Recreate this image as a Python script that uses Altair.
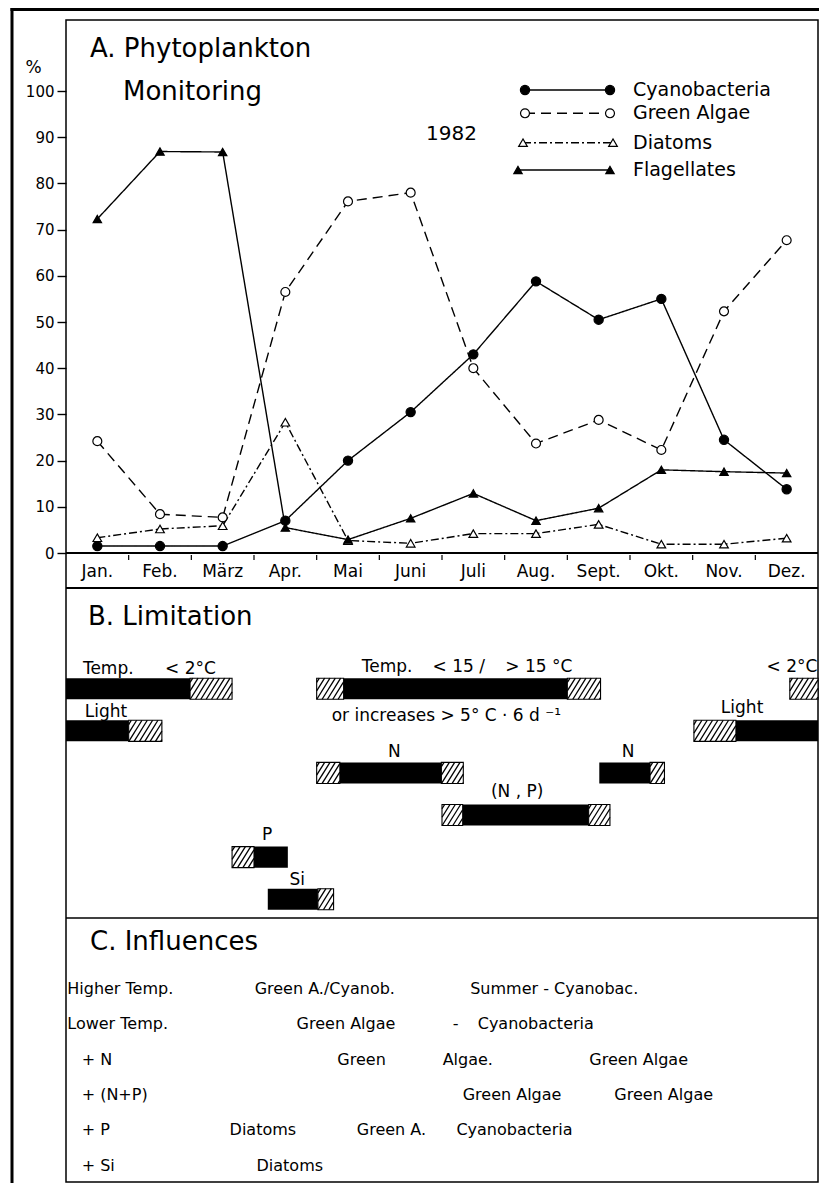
import altair as alt
import numpy as np
import pandas as pd

FONT = "DejaVu Sans"

# ---------------- data ----------------
months = ["Jan.", "Feb.", "März", "Apr.", "Mai", "Juni",
          "Juli", "Aug.", "Sept.", "Okt.", "Nov.", "Dez."]
series_names = ["Cyanobacteria", "Green Algae", "Diatoms", "Flagellates"]
cyanobacteria = [1.5, 1.5, 1.5, 7.0, 20.0, 30.5, 43.0, 58.8, 50.5, 55.0, 24.5, 13.8]
green_algae = [24.2, 8.4, 7.7, 56.5, 76.1, 78.0, 40.0, 23.7, 28.8, 22.3, 52.3, 67.7]
diatoms = [3.3, 5.2, 5.9, 28.3, 2.7, 2.1, 4.2, 4.2, 6.2, 1.9, 1.9, 3.2]
flagellates = [72.3, 86.9, 86.8, 5.5, 2.9, 7.5, 12.9, 7.0, 9.7, 18.0, 17.6, 17.3]
y_ticks = list(range(0, 101, 10))

# B. Limitation: segments of the bars (month units, row 0 = top row)
seg_row = [0, 0, 1, 1, 0, 0, 0, 2, 2, 2, 2, 2, 3, 3, 3, 1, 1, 0, 4, 4, 5, 5]
seg_start = [0.00, 1.98, 0.00, 1.00, 4.00, 4.43, 8.00, 4.00, 4.37, 5.99, 8.51,
             9.32, 6.00, 6.33, 8.34, 10.02, 10.69, 11.55, 2.65, 3.00, 3.22, 4.02]
seg_end = [1.98, 2.65, 1.00, 1.53, 4.43, 8.00, 8.53, 4.37, 5.99, 6.34, 9.32,
           9.55, 6.33, 8.34, 8.68, 10.69, 12.00, 12.00, 3.00, 3.54, 4.02, 4.27]
seg_kind = ["solid", "hatch", "solid", "hatch", "hatch", "solid", "hatch",
            "hatch", "solid", "hatch", "solid", "hatch", "hatch", "solid", "hatch",
            "hatch", "solid", "hatch", "hatch", "solid", "solid", "hatch"]

lim_text = ["Temp.", "< 2°C", "Light", "Temp.", "< 15 /", "> 15 °C",
            "or  increases   > 5° C · 6 d ⁻¹", "N", "N", "(N , P)", "Light", "< 2°C", "P", "Si"]
lim_x = [0.27, 1.58, 0.30, 4.72, 5.85, 7.01, 4.24, 5.24, 8.97, 7.20, 10.45, 11.99, 3.21, 3.69]
lim_y = [-0.35, -0.35, 0.67, -0.40, -0.40, -0.40, 0.77, 1.62, 1.62, 2.58, 0.58, -0.40, 3.59, 4.66]
lim_align = ["left", "left", "left", "left", "left", "left", "left",
             "center", "center", "center", "left", "right", "center", "center"]

# C. Influences
infl_rows = ["Higher Temp.", "Lower Temp.", "+ N", "+ (N+P)", "+ P", "+ Si"]
infl_rows_x = [0.02, 0.02, 0.25, 0.25, 0.25, 0.25]
infl_text = ["Green A./Cyanob.", "Summer - Cyanobac.",
             "Green Algae", "-", "Cyanobacteria",
             "Green", "Algae.", "Green Algae",
             "Green Algae", "Green Algae",
             "Diatoms", "Green A.", "Cyanobacteria",
             "Diatoms"]
infl_row = [0, 0, 1, 1, 1, 2, 2, 2, 3, 3, 4, 4, 4, 5]
infl_x = [3.01, 6.45, 3.68, 6.17, 6.57, 4.33, 6.01, 8.35, 6.33, 8.75, 2.61, 4.64, 6.23, 3.04]

# ---------------- layout ----------------
W, H = 752, 1162
PX_MONTH = W / 12.0
A_PX = 4.62      # px per percent
B_PX = 42.1      # px per limitation row
C_PX = 35.3      # px per influence row


def ydom(v_anchor, px_anchor, px_per_unit, down=False):
    if down:
        d0 = v_anchor - px_anchor / px_per_unit
    else:
        d0 = v_anchor - (H - px_anchor) / px_per_unit
    return [d0, d0 + H / px_per_unit]


def mx(px):   # page px -> month units
    return (px - 66) / PX_MONTH


def ay(px):   # page px -> percent units
    return (553 - px) / A_PX


def by(px):
    return (px - 688.7) / B_PX


def cy(px):
    return (px - 994) / C_PX


xs = alt.Scale(domain=[0, 12], nice=False, zero=False)
scA = alt.Scale(domain=ydom(0, 533, A_PX), nice=False, zero=False)
scB = alt.Scale(domain=ydom(0, 668.7, B_PX, down=True), nice=False, zero=False, reverse=True)
scC = alt.Scale(domain=ydom(0, 974, C_PX, down=True), nice=False, zero=False, reverse=True)

dash_scale = alt.Scale(domain=series_names, range=[[1, 0], [10, 6], [8, 3, 2, 3], [1, 0]])
shape_scale = alt.Scale(domain=series_names, range=["circle", "circle", "triangle-up", "triangle-up"])
fill_scale = alt.Scale(domain=series_names, range=["black", "white", "white", "black"])
size_scale = alt.Scale(domain=series_names, range=[85, 70, 115, 150])
width_scale = alt.Scale(domain=series_names, range=[1.4, 1.4, 1.3, 1.8])

rows = []
for s, vals in zip(series_names, [cyanobacteria, green_algae, diatoms, flagellates]):
    for i, v in enumerate(vals):
        rows.append({"series": s, "m": i + 0.5, "month": months[i], "pct": v})
df = pd.DataFrame(rows)

axisA = alt.Axis(values=y_ticks, tickSize=9, tickWidth=1.4, tickColor="black",
                 labelFont=FONT, labelFontSize=15, labelColor="black", labelPadding=3,
                 domain=False, grid=False, title="%", titleAngle=0, titleX=-33, titleY=47,
                 titleFont=FONT, titleFontSize=17, titleFontWeight="normal", titleColor="black",
                 titleAlign="center", titleBaseline="middle", labelOverlap=False)

X = lambda f: alt.X(f, type="quantitative", scale=xs, axis=None)

lines = alt.Chart(df).mark_line(color="black").encode(
    x=X("m"),
    y=alt.Y("pct:Q", scale=scA, axis=axisA),
    detail="series:N",
    strokeDash=alt.StrokeDash("series:N", scale=dash_scale, legend=None),
    strokeWidth=alt.StrokeWidth("series:N", scale=width_scale, legend=None),
)

pt_enc = dict(
    shape=alt.Shape("series:N", scale=shape_scale, legend=None),
    fill=alt.Fill("series:N", scale=fill_scale, legend=None),
    size=alt.Size("series:N", scale=size_scale, legend=None),
)
points = alt.Chart(df).mark_point(filled=True, stroke="black", strokeWidth=1.2, opacity=1).encode(
    x=X("m"), y=alt.Y("pct:Q", scale=scA, axis=None), **pt_enc)

# legend
leg = pd.DataFrame({
    "series": series_names,
    "y": [ay(p) for p in [90, 113.3, 142.7, 170]],
    "x0": [mx(p) for p in [525, 525, 523, 518]],
    "x1": [mx(p) for p in [610, 610, 613, 610]],
    "xt": [mx(633)] * 4,
})
leg_rule = alt.Chart(leg).mark_rule(color="black", strokeWidth=1.4).encode(
    x=X("x0"), x2="x1", y=alt.Y("y:Q", scale=scA, axis=None),
    strokeDash=alt.StrokeDash("series:N", scale=dash_scale, legend=None))
leg_p0 = alt.Chart(leg).mark_point(filled=True, stroke="black", strokeWidth=1.2, opacity=1).encode(
    x=X("x0"), y=alt.Y("y:Q", scale=scA, axis=None), **pt_enc)
leg_p1 = alt.Chart(leg).mark_point(filled=True, stroke="black", strokeWidth=1.2, opacity=1).encode(
    x=X("x1"), y=alt.Y("y:Q", scale=scA, axis=None), **pt_enc)
leg_txt = alt.Chart(leg).mark_text(font=FONT, fontSize=19, align="left", baseline="middle", color="black").encode(
    x=X("xt"), y=alt.Y("y:Q", scale=scA, axis=None), text="series:N")


def text_layer(data, scale, align="left", baseline="alphabetic"):
    return alt.Chart(data).mark_text(font=FONT, align=align, baseline=baseline, color="black").encode(
        x=X("x"), y=alt.Y("y:Q", scale=scale, axis=None), text="text:N",
        size=alt.Size("fs:Q", scale=None, legend=None))


titlesA = pd.DataFrame({
    "text": ["A. Phytoplankton", "Monitoring", "1982"],
    "x": [mx(90), mx(123), mx(426)],
    "y": [ay(56.7), ay(100), ay(140)],
    "fs": [26, 26, 20],
})
monthsdf = pd.DataFrame({"text": months, "x": [i + 0.5 for i in range(12)],
                         "y": [ay(577)] * 12, "fs": [17] * 12})
ticksdf = pd.DataFrame({"m": list(range(1, 12)), "y0": [ay(555)] * 11, "y1": [ay(560)] * 11})
strip_ticks = alt.Chart(ticksdf).mark_rule(color="black", strokeWidth=1.2).encode(
    x=X("m"), y=alt.Y("y0:Q", scale=scA, axis=None), y2="y1")

# B bars
segdf = pd.DataFrame({"row": seg_row, "a": seg_start, "b": seg_end, "kind": seg_kind})
HALF = 0.25
segdf["y0"] = segdf["row"] - HALF
segdf["y1"] = segdf["row"] + HALF
solid = alt.Chart(segdf).transform_filter(alt.datum.kind == "solid").mark_rect(color="black").encode(
    x=X("a"), x2="b", y=alt.Y("y0:Q", scale=scB, axis=None), y2="y1")
hrect = alt.Chart(segdf).transform_filter(alt.datum.kind == "hatch").mark_rect(
    fill="white", stroke="black", strokeWidth=1.1).encode(
    x=X("a"), x2="b", y=alt.Y("y0:Q", scale=scB, axis=None), y2="y1")

RUN, GAP = 0.21, 0.085
hatch = []
for r, a, b, k in zip(seg_row, seg_start, seg_end, seg_kind):
    if k != "hatch":
        continue
    s = a - RUN + GAP * 0.5
    while s < b:
        t0 = max(0.0, (a - s) / RUN)
        t1 = min(1.0, (b - s) / RUN)
        if t1 > t0 + 1e-6:
            hatch.append({"x": s + RUN * t0, "x2": s + RUN * t1,
                          "y": r + HALF - 2 * HALF * t0, "y2": r + HALF - 2 * HALF * t1})
        s += GAP
hatchdf = pd.DataFrame(hatch)
hlines = alt.Chart(hatchdf).mark_rule(color="black", strokeWidth=1.3).encode(
    x=X("x"), x2="x2", y=alt.Y("y:Q", scale=scB, axis=None), y2="y2")

limdf = pd.DataFrame({"text": lim_text, "x": lim_x, "y": lim_y, "al": lim_align, "fs": [17] * len(lim_text)})
lim_left = text_layer(limdf[limdf.al == "left"], scB, "left")
lim_center = text_layer(limdf[limdf.al == "center"], scB, "center")
lim_right = text_layer(limdf[limdf.al == "right"], scB, "right")
titleB = text_layer(pd.DataFrame({"text": ["B. Limitation"], "x": [mx(88)], "y": [by(625)], "fs": [26]}), scB)

titleC = text_layer(pd.DataFrame({"text": ["C. Influences"], "x": [mx(90)], "y": [cy(950)], "fs": [26]}), scC)
crows = text_layer(pd.DataFrame({"text": infl_rows, "x": infl_rows_x, "y": list(range(6)), "fs": [16] * 6}), scC)
cents = text_layer(pd.DataFrame({"text": infl_text, "x": infl_x, "y": infl_row, "fs": [16] * len(infl_text)}), scC)

one = pd.DataFrame({"a": [0]})


def hline(py, w, x0=0, x1=W):
    return alt.Chart(one).mark_rule(color="black", strokeWidth=w).encode(
        x=alt.value(x0), x2=alt.value(x1), y=alt.value(py))


frame = [
    hline(533, 2.2),           # x axis line
    hline(568, 2.2),           # bottom of month strip
    hline(898, 1.6),           # B / C boundary
    hline(-10.5, 3, -55.5, W + 1),   # outer top border
    alt.Chart(one).mark_rule(color="black", strokeWidth=3).encode(
        x=alt.value(-54), y=alt.value(-12), y2=alt.value(H + 1)),
]

chart = alt.layer(
    lines, points, leg_rule, leg_p0, leg_p1, leg_txt,
    text_layer(titlesA, scA), text_layer(monthsdf, scA, "center"), strip_ticks,
    solid, hrect, hlines, lim_left, lim_center, lim_right, titleB,
    titleC, crows, cents, *frame,
).resolve_scale(y="independent").properties(
    width=W, height=H,
    autosize=alt.AutoSizeParams(type="none"),
    padding={"left": 58, "top": 12, "right": 1, "bottom": 1},
    background="white",
).configure_view(stroke="black", strokeWidth=1.5)

chart.save("out.html", embed_options={"renderer": "svg", "actions": False})
